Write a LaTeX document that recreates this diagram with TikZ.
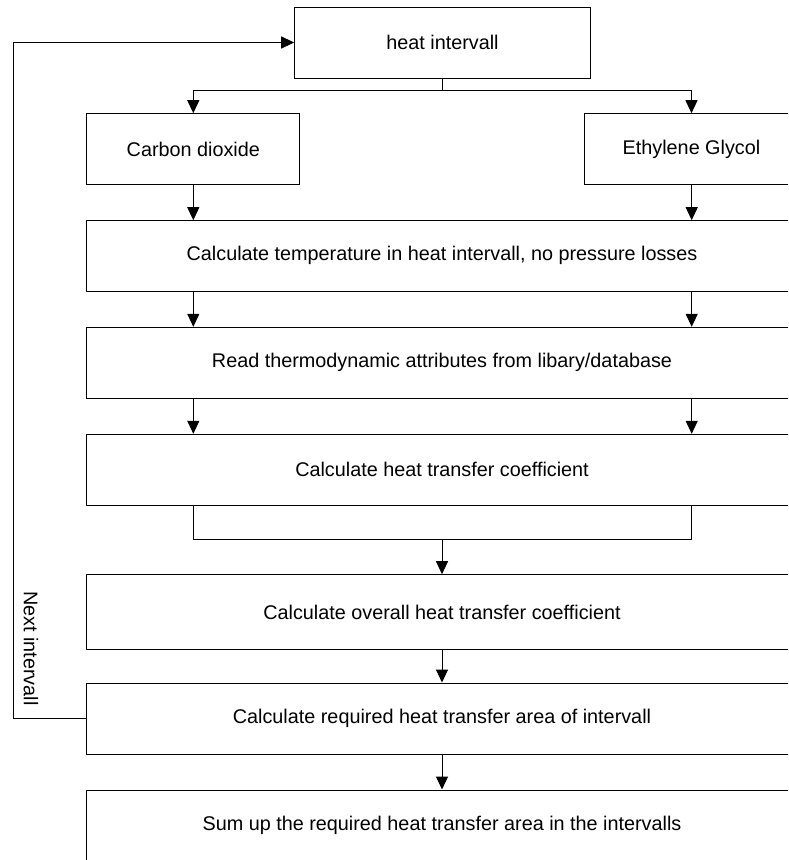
\documentclass[tikz,border=0pt]{standalone}
\usepackage{fontspec}
\setmainfont{Liberation Sans}
\usetikzlibrary{arrows.meta}
\tikzset{
  box/.style={draw=black, line width=1pt, rectangle, inner sep=0pt, align=center,
    font=\fontsize{19.8}{24}\selectfont},
  conn/.style={draw=black, line width=1pt},
  arr/.style={conn, -{Triangle[length=13pt,width=12pt]}},
}
\begin{document}
\begin{tikzpicture}[x=1pt,y=-1pt]
\clip (0,0) rectangle (788,860);
\fill[white] (0,0) rectangle (788,860);
% nodes
\node[box, minimum width=295.6pt, minimum height=71pt] (top) at (442.5,42.5) {heat intervall};
\node[box, minimum width=213.3pt, minimum height=70.6pt] (co2) at (193.3,149) {Carbon dioxide};
\node[box, minimum width=213.6pt, minimum height=70.6pt] (eg) at (691.5,149) {Ethylene Glycol};
\node[box, minimum width=711.4pt, minimum height=70.3pt] (b1) at (442,255.85) {Calculate temperature in heat intervall, no pressure losses};
\node[box, minimum width=711.4pt, minimum height=71pt] (b2) at (442,362.8) {Read thermodynamic attributes from libary/database};
\node[box, minimum width=711.4pt, minimum height=70.7pt] (b3) at (442,469.65) {Calculate heat transfer coefficient};
\node[box, minimum width=711.4pt, minimum height=74.6pt] (b4) at (442,612) {Calculate overall heat transfer coefficient};
\node[box, minimum width=711.4pt, minimum height=71pt] (b5) at (442,718.5) {Calculate required heat transfer area of intervall};
\node[box, minimum width=711.4pt, minimum height=71pt] (b6) at (442,825.5) {Sum up the required heat transfer area in the intervalls};
% coordinates
\coordinate (split) at (442.5,90.7);
\coordinate (bl) at (193.3,539);
\coordinate (br) at (691.7,539);
\coordinate (bm) at (442,539);
\coordinate (fbl) at (13.3,718.5);
% connectors
\draw[conn] (top.south) -- (split);
\draw[arr] (split) -| (co2.north);
\draw[arr] (split) -| (eg.north);
\draw[arr] (co2.south) -- (co2.south |- b1.north);
\draw[arr] (eg.south -| br) -- (b1.north -| br);
\draw[arr] (b1.south -| bl) -- (b2.north -| bl);
\draw[arr] (b1.south -| br) -- (b2.north -| br);
\draw[arr] (b2.south -| bl) -- (b3.north -| bl);
\draw[arr] (b2.south -| br) -- (b3.north -| br);
\draw[conn] (b3.south -| bl) -- (bl) -- (br) -- (b3.south -| br);
\draw[arr] (bm) -- (b4.north);
\draw[arr] (b4.south) -- (b5.north);
\draw[arr] (b5.south) -- (b6.north);
\draw[arr] (b5.west) -- (fbl) |- (top.west);
\node[font=\fontsize{19.8}{24}\selectfont, rotate=-90, inner sep=0pt] (lbl) at (31,648.5) {Next intervall};
\end{tikzpicture}
\end{document}
